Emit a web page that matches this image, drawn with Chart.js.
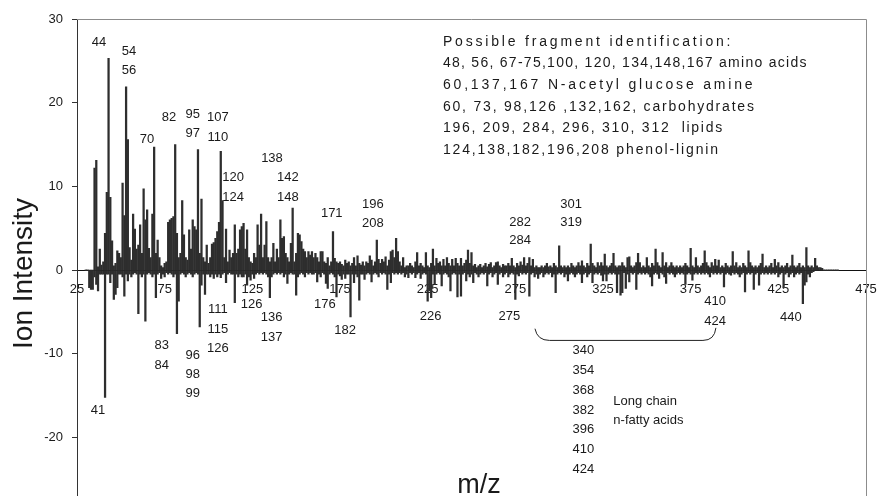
<!DOCTYPE html>
<html>
<head>
<meta charset="utf-8">
<script src="https://cdn.jsdelivr.net/npm/chart.js@4.4.1/dist/chart.umd.min.js"></script>
<style>
  html, body { margin: 0; padding: 0; background: #fff; overflow: hidden; }
  canvas { display: block; }
</style>
</head>
<body>
<canvas id="spectrum" width="879" height="538"></canvas>
<script>
// first m/z of the value arrays (one value per unit m/z)
const mzStart = 30;

// upper trace, ion intensity (m/z 30 .. 459)
const upperValues = [
  0, 0, 0, 0, 0, 12.2, 13.1, 0.4, 2.5, 0.6,
  1.0, 4.4, 9.3, 25.3, 8.7, 3.5, 0.5, 0.8, 2.3, 2.0,
  1.5, 10.4, 6.5, 21.9, 15.6, 2.7, 1.2, 6.7, 4.9, 2.5,
  3.0, 5.4, 2.0, 9.7, 6.0, 7.2, 2.6, 1.5, 6.7, 14.7,
  2.0, 3.6, 1.5, 0.5, 0.3, 0.8, 1.0, 5.7, 6.0, 6.2,
  6.4, 15.0, 4.4, 1.5, 2.0, 8.3, 4.2, 1.5, 1.2, 4.8,
  2.5, 6.0, 5.2, 4.8, 14.4, 2.0, 8.5, 1.5, 1.0, 3.0,
  0.8, 1.5, 3.1, 3.3, 3.8, 4.6, 5.7, 14.2, 8.3, 1.5,
  4.9, 1.0, 2.4, 1.5, 2.0, 5.4, 2.0, 2.5, 4.8, 5.2,
  5.6, 2.5, 4.8, 1.5, 1.0, 0.8, 2.0, 1.5, 5.4, 3.0,
  6.7, 1.5, 3.0, 5.8, 1.5, 1.0, 1.5, 3.2, 1.0, 2.5,
  1.5, 6.0, 3.8, 4.0, 2.0, 1.5, 1.0, 3.2, 7.4, 1.0,
  2.0, 4.4, 4.2, 3.4, 2.5, 2.2, 1.5, 2.2, 1.8, 2.2,
  1.5, 2.0, 1.5, 1.0, 2.2, 2.2, 1.0, 0.8, 1.5, 0.5,
  1.0, 4.6, 1.4, 1.0, 0.8, 1.0, 0.7, 0.5, 1.2, 0.8,
  1.0, 0.5, 0.8, 1.5, 0.5, 1.7, 0.8, 0.6, 1.0, 0.5,
  1.0, 0.8, 1.7, 1.2, 0.5, 1.0, 3.6, 1.3, 0.8, 1.3,
  1.0, 1.6, 0.5, 1.2, 2.2, 2.4, 1.5, 3.8, 2.2, 1.0,
  0.5, 1.5, 0.3, 0.5, 0.5, 0.8, 0.5, 0.3, 1.0, 2.1,
  0.5, 0.8, 0.5, 0.3, 2.1, 0.5, 0.3, 0.8, 2.5, 0.5,
  1.4, 0.8, 1.0, 0.5, 1.3, 0.5, 1.5, 0.8, 0.5, 1.3,
  0.5, 1.4, 0.8, 0.5, 1.4, 0.5, 0.8, 1.2, 2.4, 0.8,
  2.1, 0.5, 0.7, 0.3, 0.5, 0.7, 0.3, 0.5, 0.8, 0.4,
  0.7, 0.9, 0.3, 0.5, 0.9, 1.0, 0.5, 0.3, 0.7, 0.5,
  0.5, 0.8, 0.5, 1.4, 0.5, 0.3, 0.8, 0.5, 1.0, 0.6,
  1.5, 0.5, 0.8, 1.5, 0.5, 1.3, 0.3, 0.5, 0.3, 0.3,
  0.5, 0.3, 0.5, 0.8, 0.4, 0.5, 0.3, 0.8, 0.5, 0.3,
  2.9, 0.5, 0.3, 0.5, 0.3, 0.5, 0.3, 0.8, 0.5, 0.3,
  0.5, 0.9, 0.5, 1.1, 0.5, 0.3, 0.8, 0.5, 3.1, 0.8,
  0.5, 0.3, 0.9, 0.5, 0.9, 0.5, 1.9, 0.5, 0.3, 0.5,
  0.8, 2.0, 0.5, 0.3, 0.5, 0.5, 0.9, 0.5, 0.3, 1.5,
  1.6, 0.5, 0.3, 0.5, 0.9, 2.0, 0.9, 0.3, 0.5, 0.3,
  1.5, 0.5, 0.3, 0.8, 0.5, 2.5, 0.9, 0.5, 0.3, 2.1,
  0.5, 0.9, 0.3, 0.5, 0.9, 0.5, 0.3, 0.5, 0.3, 0.5,
  0.3, 0.5, 0.8, 0.5, 0.3, 2.6, 0.5, 0.3, 1.5, 0.5,
  0.3, 0.5, 0.8, 2.3, 0.9, 0.5, 0.3, 0.9, 0.5, 1.3,
  0.5, 1.2, 0.3, 0.5, 0.3, 0.8, 0.5, 0.3, 0.5, 2.2,
  0.5, 0.9, 0.3, 0.5, 0.3, 0.8, 0.5, 0.3, 2.3, 0.9,
  0.5, 0.3, 0.5, 0.3, 0.5, 0.8, 1.9, 0.3, 0.5, 0.3,
  0.5, 0.8, 0.3, 1.3, 0.5, 0.9, 0.3, 0.5, 0.3, 0.5,
  0.8, 0.3, 0.5, 1.8, 0.5, 0.3, 0.5, 0.8, 0.3, 0.5,
  0.3, 2.7, 0.5, 0.3, 0.5, 0.3, 1.4, 0.5, 0.3, 0.3,
  0.2, 0, 0, 0, 0, 0, 0, 0, 0, 0
];

// lower (mirrored) trace, ion intensity (m/z 30 .. 459)
const lowerValues = [
  0, 0, -2.1, -2.3, -2.3, -0.8, -1.7, -2.5, -0.5, -0.5,
  -0.5, -15.2, -0.5, -0.5, -1.5, -0.5, -3.5, -2.9, -2.1, -0.5,
  -0.5, -0.8, -3.1, -0.5, -1.3, -0.5, -0.8, -0.5, -0.3, -0.5,
  -5.2, -0.5, -0.8, -0.5, -6.1, -0.5, -0.3, -0.5, -0.8, -0.5,
  -3.3, -0.5, -0.3, -1.0, -0.5, -0.8, -0.3, -0.5, -0.3, -0.5,
  -0.8, -0.5, -7.6, -3.7, -0.5, -0.3, -0.5, -0.8, -0.5, -0.3,
  -0.5, -0.8, -0.5, -0.3, -0.5, -6.8, -1.8, -0.5, -2.9, -0.5,
  -0.5, -0.8, -0.5, -1.0, -0.5, -0.8, -0.5, -0.9, -0.5, -0.3,
  -1.5, -0.5, -0.3, -0.5, -0.5, -3.9, -0.5, -0.8, -0.5, -0.8,
  -0.8, -0.5, -1.8, -0.8, -1.2, -0.5, -1.0, -0.5, -0.3, -0.5,
  -0.3, -0.5, -0.3, -0.5, -0.8, -3.3, -0.8, -0.5, -0.3, -0.5,
  -0.3, -0.5, -0.3, -0.8, -0.5, -1.6, -0.5, -0.3, -0.5, -0.5,
  -3.0, -0.8, -0.5, -0.3, -0.5, -0.8, -0.3, -0.5, -0.3, -0.5,
  -0.5, -0.3, -1.4, -0.5, -0.8, -0.3, -0.5, -1.6, -2.2, -0.5,
  -0.3, -0.5, -0.8, -3.2, -0.5, -0.7, -1.1, -0.5, -1.0, -0.5,
  -0.5, -5.6, -0.5, -1.5, -0.5, -0.8, -3.6, -0.5, -0.5, -1.1,
  -0.5, -0.3, -0.5, -1.4, -0.5, -0.3, -0.5, -0.8, -0.3, -0.5,
  -0.3, -0.5, -2.3, -0.5, -1.5, -0.3, -0.5, -0.3, -0.5, -0.3,
  -0.5, -0.3, -0.8, -0.5, -0.9, -0.3, -0.5, -0.3, -0.9, -0.5,
  -0.3, -1.0, -0.5, -0.3, -0.5, -3.7, -2.5, -3.3, -0.5, -1.7,
  -0.5, -0.3, -0.5, -1.9, -0.5, -0.3, -0.5, -0.8, -2.5, -0.5,
  -0.3, -0.5, -3.2, -0.5, -3.1, -0.5, -0.3, -1.3, -0.5, -0.8,
  -0.5, -1.5, -0.3, -0.5, -0.8, -0.5, -0.3, -0.5, -0.3, -1.9,
  -0.5, -0.3, -0.8, -0.5, -0.3, -1.7, -0.5, -0.3, -0.8, -0.5,
  -0.3, -0.8, -0.5, -0.3, -0.5, -3.5, -0.5, -0.7, -0.3, -0.5,
  -0.3, -0.5, -0.3, -3.1, -0.5, -0.3, -0.8, -0.5, -1.0, -0.5,
  -0.3, -0.8, -0.5, -0.3, -0.5, -0.3, -0.8, -0.5, -2.7, -0.5,
  -0.3, -0.5, -0.3, -0.8, -0.5, -1.3, -0.5, -0.3, -0.5, -0.8,
  -0.5, -0.3, -0.5, -1.5, -0.5, -0.3, -0.8, -0.5, -0.3, -1.5,
  -0.5, -0.3, -0.5, -0.3, -0.6, -1.3, -0.5, -1.3, -0.5, -0.3,
  -0.5, -0.3, -0.5, -2.7, -0.5, -3.0, -2.7, -0.3, -2.2, -0.5,
  -1.4, -0.3, -0.5, -0.3, -2.3, -0.5, -0.3, -0.5, -0.3, -0.5,
  -0.3, -0.5, -0.8, -1.9, -0.5, -0.3, -0.5, -1.0, -0.3, -0.5,
  -0.8, -1.6, -0.3, -0.5, -0.3, -0.5, -0.8, -0.5, -0.3, -0.5,
  -0.3, -0.5, -1.7, -0.5, -0.3, -0.5, -1.2, -0.5, -0.3, -0.5,
  -0.3, -0.5, -0.3, -0.5, -0.3, -0.5, -0.8, -0.3, -0.5, -0.3,
  -0.5, -0.3, -0.5, -0.3, -2.0, -0.5, -0.3, -0.5, -0.6, -0.3,
  -0.5, -0.3, -0.5, -0.8, -0.5, -0.3, -2.6, -0.5, -0.3, -0.5,
  -0.3, -2.3, -0.5, -0.3, -1.8, -0.5, -0.3, -0.5, -0.3, -0.5,
  -0.3, -0.5, -0.3, -0.5, -0.3, -0.8, -0.5, -0.3, -2.1, -0.5,
  -0.3, -0.8, -0.5, -0.3, -0.8, -0.5, -0.3, -0.5, -0.3, -4.0,
  -1.8, -1.4, -0.5, -0.8, -0.3, -0.2, 0, 0, 0, 0,
  0, 0, 0, 0, 0, 0, 0, 0, 0, 0
];

// axis ranges / ticks
const xMin = 25, xMax = 475, xStep = 50;
const yMin = -30, yMax = 30, yStep = 10;

// peak labels: [text, m/z position, intensity position]
const peakLabels = [
  ['44', 37.5, 27.2], ['54', 54.7, 26.1], ['56', 54.7, 23.8],
  ['70', 64.9, 15.6], ['82', 77.5, 18.2],
  ['95', 91.0, 18.6], ['97', 91.0, 16.3],
  ['107', 105.4, 18.2], ['110', 105.4, 15.8],
  ['120', 114.0, 11.1], ['124', 114.0, 8.7],
  ['138', 136.2, 13.4], ['142', 145.3, 11.1], ['148', 145.3, 8.7],
  ['171', 170.3, 6.8], ['196', 193.8, 7.9], ['208', 193.8, 5.6],
  ['282', 277.7, 5.7], ['284', 277.7, 3.5],
  ['301', 306.8, 7.8], ['319', 306.8, 5.7],
  ['41', 37.0, -16.8], ['83', 73.3, -9.0], ['84', 73.3, -11.4],
  ['96', 91.0, -10.2], ['98', 91.0, -12.5], ['99', 91.0, -14.7],
  ['111', 105.4, -4.7], ['115', 105.4, -7.1], ['126', 105.4, -9.3],
  ['126', 124.6, -4.1], ['136', 136.0, -5.6], ['137', 136.0, -8.0],
  ['176', 166.4, -4.1], ['182', 177.9, -7.2], ['226', 226.7, -5.5],
  ['275', 271.6, -5.5], ['410', 388.9, -3.8], ['424', 388.9, -6.1],
  ['440', 432.1, -5.6]
];

// long chain fatty acid column
const fattyAcidMz = ['340', '354', '368', '382', '396', '410', '424'];

// fragment identification box
const fragmentLines = [
  'Possible fragment identification:',
  '48, 56, 67-75,100, 120, 134,148,167 amino acids',
  '60,137,167 N-acetyl glucose amine',
  '60, 73, 98,126 ,132,162, carbohydrates',
  '196, 209, 284, 296, 310, 312  lipids',
  '124,138,182,196,208 phenol-lignin'
];

const FONT = '"Liberation Sans", Arial, sans-serif';

function toPoints(values) {
  return values.map((v, i) => ({ x: mzStart + i, y: v }));
}

// dibuja textos, marco y llave sobre el grafico
const annotationPlugin = {
  id: 'annotations',
  afterDraw(chart) {
    const ctx = chart.ctx;
    const xs = chart.scales.x;
    const ys = chart.scales.y;
    const area = chart.chartArea;
    const px = v => xs.getPixelForValue(v);
    const py = v => ys.getPixelForValue(v);

    ctx.save();
    // marco superior y derecho
    ctx.strokeStyle = '#8c8c8c';
    ctx.lineWidth = 1;
    const top = Math.round(area.top) + 0.5;
    const right = Math.round(area.right) + 0.5;
    ctx.beginPath();
    ctx.moveTo(area.left, top);
    ctx.lineTo(right, top);
    ctx.lineTo(right, area.bottom);
    ctx.stroke();

    ctx.fillStyle = '#1a1a1a';
    ctx.font = '13px ' + FONT;
    ctx.textAlign = 'center';
    ctx.textBaseline = 'middle';
    peakLabels.forEach(([t, x, y]) => ctx.fillText(t, px(x), py(y)));

    fattyAcidMz.forEach((t, i) => ctx.fillText(t, px(313.8), py(-9.6 - i * 2.37)));

    ctx.textAlign = 'left';
    ctx.fillText('Long chain', px(330.9), py(-15.7));
    ctx.fillText('n-fatty acids', px(330.9), py(-18.0));

    // caja de identificacion: cada linea ajustada al ancho del original
    ctx.font = '14px ' + FONT;
    const boxY = [27.29, 24.70, 22.11, 19.52, 16.94, 14.34];
    const boxEnd = [399.4, 441.8, 411.9, 412.2, 394.0, 391.6];
    const hasSpacing = 'letterSpacing' in ctx;
    fragmentLines.forEach((t, i) => {
      const x0 = px(233.7);
      if (hasSpacing) {
        ctx.letterSpacing = '0px';
        const w = ctx.measureText(t).width;
        const sp = Math.max(0, (px(boxEnd[i]) - x0 - w) / t.length);
        ctx.letterSpacing = sp.toFixed(2) + 'px';
      }
      ctx.fillText(t, x0, py(boxY[i]));
    });
    if (hasSpacing) ctx.letterSpacing = '0px';

    // llave de los acidos grasos
    ctx.strokeStyle = '#222';
    ctx.lineWidth = 1;
    ctx.beginPath();
    ctx.moveTo(px(286.2), py(-7.0));
    ctx.quadraticCurveTo(px(287.5), py(-8.4), px(294.5), py(-8.4));
    ctx.lineTo(px(382.0), py(-8.4));
    ctx.quadraticCurveTo(px(388.6), py(-8.4), px(389.4), py(-6.9));
    ctx.stroke();

    // titulos de ejes
    ctx.font = '27px ' + FONT;
    ctx.textAlign = 'center';
    ctx.textBaseline = 'middle';
    ctx.fillText('m/z', px(254.3), py(-25.7));

    ctx.font = '28px ' + FONT;
    ctx.translate(32, py(-0.4));
    ctx.rotate(-Math.PI / 2);
    ctx.textBaseline = 'alphabetic';
    ctx.fillText('Ion Intensity', 0, 0);
    ctx.restore();
  }
};

new Chart(document.getElementById('spectrum'), {
  type: 'bar',
  data: {
    datasets: [
      {
        label: 'upper',
        data: toPoints(upperValues),
        backgroundColor: '#2e2e2e',
        barThickness: 1.6,
        grouped: false
      },
      {
        label: 'lower',
        data: toPoints(lowerValues),
        backgroundColor: '#2e2e2e',
        barThickness: 1.6,
        grouped: false
      }
    ]
  },
  options: {
    responsive: false,
    animation: false,
    layout: { padding: { top: 19, right: 13, bottom: 1, left: 0 } },
    plugins: {
      legend: { display: false },
      tooltip: { enabled: false }
    },
    scales: {
      x: {
        type: 'linear',
        min: xMin,
        max: xMax,
        position: { y: 0 },
        offset: false,
        ticks: {
          stepSize: xStep,
          autoSkip: false,
          maxRotation: 0,
          padding: 12,
          color: '#1a1a1a',
          font: { size: 13, family: FONT }
        },
        grid: { display: false, drawTicks: false },
        border: { display: true, color: '#111', width: 1 },
        // las etiquetas del eje no deben reducir el area del grafico
        afterFit(axis) { axis.paddingLeft = 0; axis.paddingRight = 0; }
      },
      y: {
        min: yMin,
        max: yMax,
        ticks: {
          stepSize: yStep,
          padding: 9,
          color: '#1a1a1a',
          font: { size: 13, family: FONT }
        },
        grid: { drawOnChartArea: false, drawTicks: true, tickLength: 5, color: '#333' },
        border: { display: true, color: '#333', width: 1 },
        afterFit(axis) { axis.width = 77; }
      }
    }
  },
  plugins: [annotationPlugin]
});
</script>
</body>
</html>
